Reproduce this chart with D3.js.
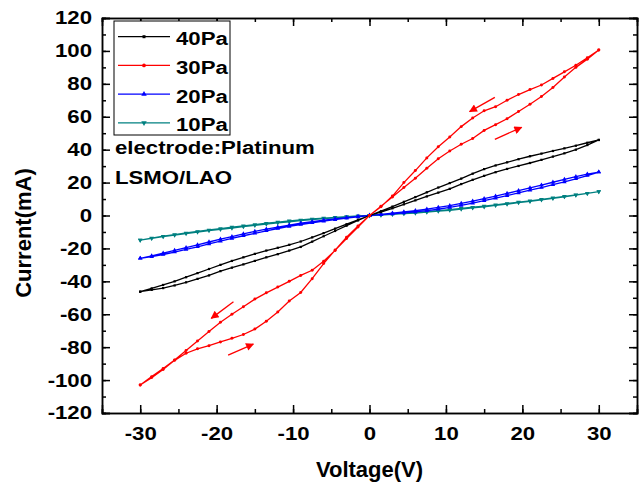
<!DOCTYPE html>
<html>
<head>
<meta charset="utf-8">
<script src="https://cdn.jsdelivr.net/npm/d3@7"></script>
<style>
  body { margin: 0; background: #fff; }
  svg { display: block; }
  text { font-family: "Liberation Sans", Arial, sans-serif; font-weight: bold; fill: #000; }
</style>
</head>
<body>
<svg id="chart" width="643" height="484"></svg>
<script>
// voltage sweep grid, one half of the loop each side
const vPos = [0, 1.5, 3, 4.5, 6, 7.5, 9, 10.5, 12, 13.5, 15, 16.5, 18, 19.5, 21, 22.5, 24, 25.5, 27, 28.5, 30];
const vNeg = [0, -1.5, -3, -4.5, -6, -7.5, -9, -10.5, -12, -13.5, -15, -16.5, -18, -19.5, -21, -22.5, -24, -25.5, -27, -28.5, -30];

const seriesNames = ['40Pa', '30Pa', '20Pa', '10Pa'];
const seriesColors = ['#000000', '#ff0000', '#0000ff', '#008080'];

// 40Pa (mA)
const i40FwdPos = [0, 2.1, 4.4, 6.8, 9.2, 11.6, 13.9, 16.2, 19.1, 21.7, 24.1, 26.3, 28.3, 30.1, 31.9, 33.8, 35.8, 37.8, 40, 42.8, 45.9];
const i40RetPos = [0, 2.6, 5.4, 8.3, 11.2, 14.1, 17, 19.7, 22.4, 25.4, 28.2, 30.4, 32.3, 34.2, 36, 37.6, 39.2, 40.8, 42.4, 44.2, 45.9];
const i40FwdNeg = [0, -2.6, -5.3, -8, -10.7, -13.3, -15.8, -17.8, -19.6, -21.3, -23.3, -25.4, -27.6, -30, -32.5, -35, -37.5, -40, -42.2, -44.3, -46.3];
const i40RetNeg = [0, -3, -6.2, -9.4, -12.6, -15.9, -19.1, -21.3, -23.5, -25.4, -27.6, -29.7, -31.7, -33.8, -36.4, -38.5, -40.6, -42.5, -44.1, -45.2, -46.3];

// 30Pa
const i30FwdPos = [0, 5.6, 11.3, 17, 22.7, 28.7, 34.5, 39.2, 43.3, 46.8, 51.7, 55.2, 58.8, 63.2, 67.6, 72.3, 77.8, 84.2, 90, 95, 100.5];
const i30RetPos = [0, 5.3, 11.8, 20, 27.3, 35, 41.8, 47.7, 54, 59.2, 63.6, 66.1, 70, 73.5, 76.5, 79.3, 83.3, 87.3, 91.3, 95.8, 100.5];
const i30FwdNeg = [0, -7, -14, -21.2, -27.8, -33.3, -36.4, -40, -43.5, -47, -50.8, -55.4, -60, -64.8, -70.5, -76.3, -82, -87.8, -93, -97.9, -103];
const i30RetNeg = [0, -6.3, -13.2, -21, -29.2, -38.4, -46.8, -52, -58.6, -64.3, -69, -72.3, -74.6, -76.8, -79.1, -81, -83.7, -88, -93.5, -98.5, -103];

// 20Pa
const i20FwdPos = [0, 0.5, 1, 1.6, 2.2, 2.9, 3.8, 4.9, 6.1, 7.5, 9, 10.5, 12.1, 13.7, 15.4, 17, 18.7, 20.4, 22.3, 24.3, 26.4];
const i20RetPos = [0, 0.7, 1.4, 2.2, 3, 3.9, 4.9, 6, 7.3, 8.7, 10.2, 11.8, 13.4, 15.1, 16.8, 18.5, 20.2, 21.9, 23.6, 25.2, 26.4];
const i20FwdNeg = [0, -0.8, -1.6, -2.5, -3.4, -4.4, -5.5, -6.6, -7.9, -9.3, -10.8, -12.3, -13.9, -15.6, -17.3, -19, -20.6, -22.2, -23.7, -25, -26];
const i20RetNeg = [0, -0.6, -1.3, -2, -2.8, -3.7, -4.7, -5.8, -7, -8.3, -9.7, -11.2, -12.8, -14.4, -16.1, -17.8, -19.5, -21.2, -22.9, -24.5, -26];

// 10Pa
const i10FwdPos = [0, 0.3, 0.7, 1.1, 1.5, 2, 2.6, 3.2, 3.9, 4.6, 5.3, 6.1, 6.9, 7.8, 8.6, 9.5, 10.4, 11.4, 12.4, 13.4, 14.5];
const i10RetPos = [0, 0.4, 0.9, 1.4, 1.9, 2.4, 3, 3.6, 4.3, 5, 5.7, 6.5, 7.3, 8.1, 8.9, 9.8, 10.7, 11.6, 12.5, 13.5, 14.5];
const i10FwdNeg = [0, -0.4, -0.9, -1.4, -1.9, -2.5, -3.1, -3.8, -4.5, -5.2, -6, -6.8, -7.6, -8.4, -9.2, -10.1, -11, -11.9, -12.9, -13.9, -14.9];
const i10RetNeg = [0, -0.3, -0.7, -1.1, -1.6, -2.1, -2.7, -3.3, -4, -4.7, -5.5, -6.3, -7.1, -8, -8.8, -9.7, -10.6, -11.6, -12.6, -13.7, -14.9];

// sweep direction arrows on the 30Pa loop: [x0, y0, x1, y1] in data units
const arrowData = [
  [16.4, 71.8, 13.1, 63.1],
  [16.4, 46.3, 19.9, 53.6],
  [-17.8, -52.4, -20.7, -62.5],
  [-18.5, -84.8, -15.2, -78.1]
];

const xTicks = [-30, -20, -10, 0, 10, 20, 30];
const yTicks = [-120, -100, -80, -60, -40, -20, 0, 20, 40, 60, 80, 100, 120];
const noteLines = ['electrode:Platinum', 'LSMO/LAO'];

// build a closed sweep: 0 -> +30 -> 0 -> -30 -> 0
function loop(fp, rp, fn, rn) {
  const pts = [];
  vPos.forEach((v, i) => pts.push([v, fp[i]]));
  vPos.slice().reverse().forEach((v, i) => pts.push([v, rp[rp.length - 1 - i]]));
  vNeg.forEach((v, i) => pts.push([v, fn[i]]));
  vNeg.slice().reverse().forEach((v, i) => pts.push([v, rn[rn.length - 1 - i]]));
  return pts;
}

const series = [
  loop(i40FwdPos, i40RetPos, i40FwdNeg, i40RetNeg),
  loop(i30FwdPos, i30RetPos, i30FwdNeg, i30RetNeg),
  loop(i20FwdPos, i20RetPos, i20FwdNeg, i20RetNeg),
  loop(i10FwdPos, i10RetPos, i10FwdNeg, i10RetNeg)
];

const svg = d3.select('#chart');
const margin = {top: 18, right: 6, bottom: 71, left: 102};
const width = 643 - margin.left - margin.right;
const height = 484 - margin.top - margin.bottom;
const stretch = 'scale(1.2,1)';

const g = svg.append('g').attr('transform', 'translate(' + margin.left + ',' + margin.top + ')');

const x = d3.scaleLinear().domain([-35, 35]).range([0, width]);
const y = d3.scaleLinear().domain([-120, 120]).range([height, 0]);

// draw order: 10Pa, 20Pa, 40Pa, 30Pa on top
const order = [3, 2, 0, 1];
const line = d3.line().x(d => x(d[0])).y(d => y(d[1]));
const symbols = [d3.symbolSquare, d3.symbolCircle, d3.symbolTriangle, d3.symbolTriangle];
const symSize = [5, 7, 9, 9];

order.forEach(k => {
  g.append('path')
    .datum(series[k])
    .attr('fill', 'none')
    .attr('stroke', seriesColors[k])
    .attr('stroke-width', 1.3)
    .attr('d', line);

  g.selectAll('.m' + k)
    .data(series[k])
    .enter().append('path')
    .attr('class', 'm' + k)
    .attr('d', d3.symbol().type(symbols[k]).size(symSize[k]))
    .attr('fill', seriesColors[k])
    .attr('transform', d => 'translate(' + x(d[0]) + ',' + y(d[1]) + ')' + (k == 3 ? ' rotate(180)' : ''));
});

// arrows
svg.append('defs').append('marker')
  .attr('id', 'head')
  .attr('viewBox', '0 0 10 10')
  .attr('refX', 9).attr('refY', 5)
  .attr('markerWidth', 10).attr('markerHeight', 8)
  .attr('markerUnits', 'userSpaceOnUse')
  .attr('orient', 'auto')
  .append('path')
  .attr('d', 'M0,0L10,5L0,10z')
  .attr('fill', '#ff0000');

g.selectAll('.arrow')
  .data(arrowData)
  .enter().append('line')
  .attr('class', 'arrow')
  .attr('x1', d => x(d[0])).attr('y1', d => y(d[1]))
  .attr('x2', d => x(d[2])).attr('y2', d => y(d[3]))
  .attr('stroke', '#ff0000')
  .attr('stroke-width', 1.3)
  .attr('marker-end', 'url(#head)');

// axes, ticks inside the frame
function styleAxis(a) {
  a.select('.domain').attr('stroke', '#000').attr('stroke-width', 1.5);
  a.selectAll('.tick line').attr('stroke', '#000').attr('stroke-width', 1.5);
  a.selectAll('.tick text').style('font-size', '18.5px').attr('fill', '#000');
}

// plain hyphen for negatives, like the original
const fmt = d => String(d);
const xMinor = d3.range(-35, 36, 5);
const yMinor = d3.range(-120, 121, 10);

g.append('g').attr('transform', 'translate(0,' + height + ')')
  .call(d3.axisBottom(x).tickValues(xMinor).tickSize(-4).tickFormat(''))
  .call(styleAxis);
g.append('g').attr('transform', 'translate(0,' + height + ')')
  .call(d3.axisBottom(x).tickValues(xTicks).tickSize(-8).tickPadding(14).tickFormat(fmt))
  .call(styleAxis)
  .call(a => a.selectAll('.tick text').attr('transform', stretch));

g.append('g')
  .call(d3.axisTop(x).tickValues(xMinor).tickSize(-4).tickFormat(''))
  .call(styleAxis);
g.append('g')
  .call(d3.axisTop(x).tickValues(xTicks).tickSize(-8).tickFormat(''))
  .call(styleAxis);

g.append('g')
  .call(d3.axisLeft(y).tickValues(yMinor).tickSize(-4).tickFormat(''))
  .call(styleAxis);
g.append('g')
  .call(d3.axisLeft(y).tickValues(yTicks).tickSize(-8).tickPadding(8.3).tickFormat(fmt))
  .call(styleAxis)
  .call(a => a.selectAll('.tick text').attr('transform', stretch));

g.append('g').attr('transform', 'translate(' + width + ',0)')
  .call(d3.axisRight(y).tickValues(yMinor).tickSize(-4).tickFormat(''))
  .call(styleAxis);
g.append('g').attr('transform', 'translate(' + width + ',0)')
  .call(d3.axisRight(y).tickValues(yTicks).tickSize(-8).tickFormat(''))
  .call(styleAxis);

// axis titles
svg.append('text')
  .attr('x', margin.left + x(0))
  .attr('y', 477)
  .attr('text-anchor', 'middle')
  .style('font-size', '22px')
  .text('Voltage(V)');

svg.append('text')
  .attr('transform', 'translate(31,233) rotate(-90)')
  .attr('text-anchor', 'middle')
  .style('font-size', '22px')
  .text('Current(mA)');

// legend
const lg = svg.append('g').attr('transform', 'translate(114,21)');
lg.append('rect')
  .attr('width', 116).attr('height', 114)
  .attr('fill', '#fff').attr('stroke', '#000').attr('stroke-width', 1);

seriesNames.forEach((name, k) => {
  const ly = 15.7 + k * 28.7;
  lg.append('line')
    .attr('x1', 4).attr('x2', 56).attr('y1', ly).attr('y2', ly)
    .attr('stroke', seriesColors[k]).attr('stroke-width', 1.3);
  lg.append('path')
    .attr('d', d3.symbol().type(symbols[k]).size(symSize[k] + 4))
    .attr('fill', seriesColors[k])
    .attr('transform', 'translate(30,' + ly + ')' + (k == 3 ? ' rotate(180)' : ''));
  lg.append('text')
    .attr('transform', 'translate(62,' + (ly + 8.5) + ') ' + stretch)
    .style('font-size', '18.5px')
    .text(name);
});

noteLines.forEach((t, i) => {
  svg.append('text')
    .attr('transform', 'translate(115,' + (154 + i * 30) + ') ' + stretch)
    .style('font-size', '18.5px')
    .text(t);
});
</script>
</body>
</html>
